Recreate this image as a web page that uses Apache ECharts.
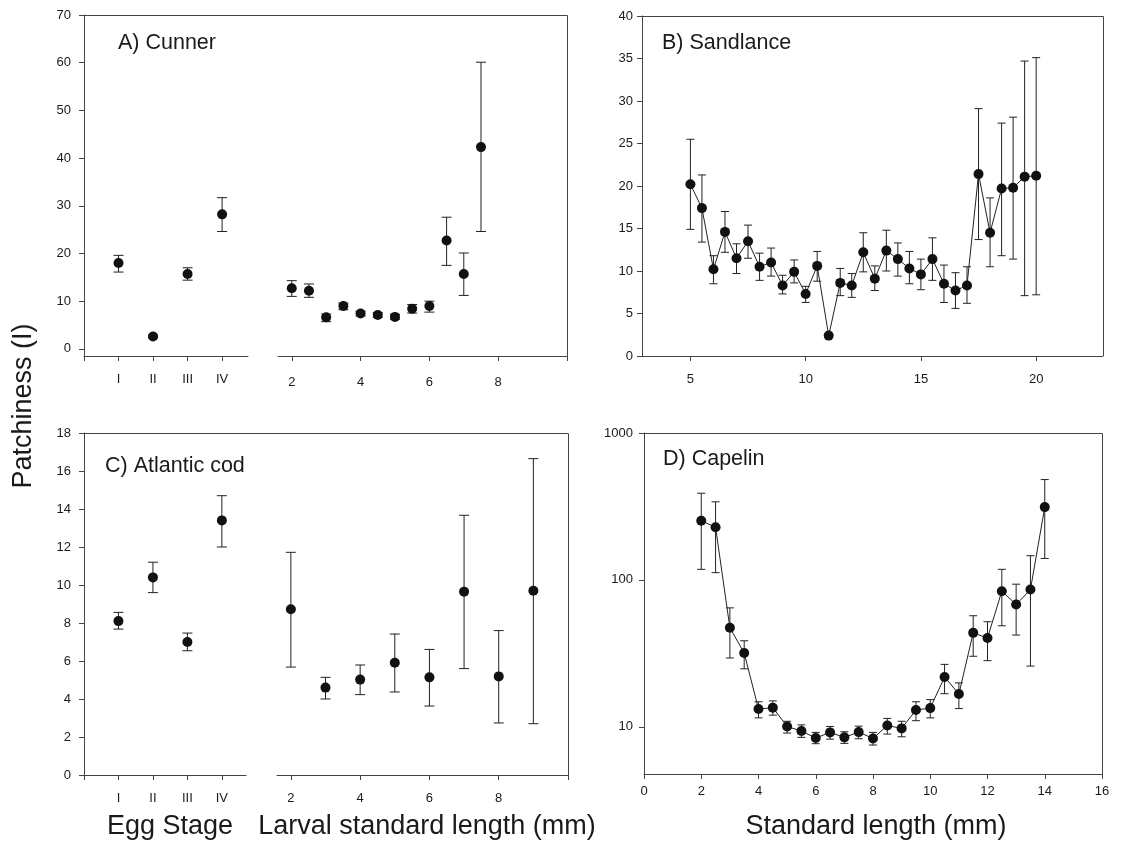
<!DOCTYPE html>
<html><head><meta charset="utf-8">
<script src="https://cdn.jsdelivr.net/npm/echarts@6/dist/echarts.min.js"></script>
<style>html,body{margin:0;padding:0;background:#fff}#c{width:1141px;height:843px}</style>
</head><body><div id="c"></div>
<script>
// ---------- Data ----------
const eggStageLabels = ['I', 'II', 'III', 'IV'];
const eggStagePos = [1, 2, 3, 4];

// A) Cunner
const cunnerEggMean = [18.0, 2.6, 15.7, 28.2];
const cunnerEggLow  = [16.1, 2.3, 14.4, 24.6];
const cunnerEggHigh = [19.6, 2.9, 17.0, 31.7];
const cunnerLarvaLen  = [2, 2.5, 3, 3.5, 4, 4.5, 5, 5.5, 6, 6.5, 7, 7.5];
const cunnerLarvaMean = [12.7, 12.2, 6.6, 9.0, 7.4, 7.1, 6.7, 8.4, 9.0, 22.7, 15.7, 42.3];
const cunnerLarvaLow  = [11.0, 10.8, 5.7, 8.2, 6.9, 6.6, 6.2, 7.5, 7.7, 17.5, 11.2, 24.6];
const cunnerLarvaHigh = [14.3, 13.6, 7.3, 9.6, 7.9, 7.6, 7.2, 9.3, 10.0, 27.6, 20.1, 60.1];

// B) Sandlance
const sandLen  = [5, 5.5, 6, 6.5, 7, 7.5, 8, 8.5, 9, 9.5, 10, 10.5, 11, 11.5, 12, 12.5, 13, 13.5, 14, 14.5, 15, 15.5, 16, 16.5, 17, 17.5, 18, 18.5, 19, 19.5, 20];
const sandMean = [20.2, 17.4, 10.2, 14.6, 11.5, 13.5, 10.5, 11.0, 8.3, 9.9, 7.3, 10.6, 2.4, 8.6, 8.3, 12.2, 9.1, 12.4, 11.4, 10.3, 9.6, 11.4, 8.5, 7.7, 8.3, 21.4, 14.5, 19.7, 19.8, 21.1, 21.2];
const sandLow  = [14.9, 13.4, 8.5, 12.2, 9.7, 11.5, 8.9, 9.4, 7.3, 8.6, 6.3, 8.8, 2.2, 7.1, 6.9, 9.9, 7.7, 10.0, 9.4, 8.5, 7.8, 8.9, 6.3, 5.6, 6.2, 13.7, 10.5, 11.8, 11.4, 7.1, 7.2];
const sandHigh = [25.5, 21.3, 11.8, 17.0, 13.2, 15.4, 12.1, 12.7, 9.5, 11.3, 8.2, 12.3, 2.6, 10.3, 9.7, 14.5, 10.6, 14.8, 13.3, 12.3, 11.4, 13.9, 10.7, 9.8, 10.5, 29.1, 18.6, 27.4, 28.1, 34.7, 35.1];

// C) Atlantic cod
const codEggMean = [8.1, 10.4, 7.0, 13.4];
const codEggLow  = [7.68, 9.6, 6.54, 12.0];
const codEggHigh = [8.56, 11.2, 7.47, 14.7];
const codLarvaLen  = [2, 3, 4, 5, 6, 7, 8, 9];
const codLarvaMean = [8.72, 4.6, 5.02, 5.91, 5.14, 9.65, 5.19, 9.7];
const codLarvaLow  = [5.68, 4.0, 4.23, 4.37, 3.63, 5.6, 2.74, 2.7];
const codLarvaHigh = [11.72, 5.14, 5.79, 7.42, 6.61, 13.67, 7.6, 16.65];

// D) Capelin
const capLen  = [2, 2.5, 3, 3.5, 4, 4.5, 5, 5.5, 6, 6.5, 7, 7.5, 8, 8.5, 9, 9.5, 10, 10.5, 11, 11.5, 12, 12.5, 13, 13.5, 14];
const capMean = [253, 228, 47.2, 31.8, 13.2, 13.5, 10.05, 9.35, 8.38, 9.16, 8.47, 9.2, 8.33, 10.2, 9.75, 13.0, 13.4, 21.8, 16.7, 43.6, 40.2, 83.8, 68.0, 85.9, 313];
const capLow  = [118, 112, 29.4, 24.8, 11.5, 12.0, 9.06, 8.47, 7.67, 8.24, 7.71, 8.29, 7.51, 8.92, 8.55, 11.0, 11.5, 16.8, 13.3, 30.2, 28.2, 48.7, 42.1, 25.9, 140];
const capHigh = [389, 340, 64.5, 38.5, 14.8, 15.0, 10.9, 10.3, 9.16, 10.05, 9.25, 10.1, 9.16, 11.4, 10.9, 14.8, 15.3, 26.6, 19.9, 57.0, 51.9, 118, 93.5, 146, 482];

// Tick values
const cunnerYTicks = [0, 10, 20, 30, 40, 50, 60, 70];
const sandYTicks = [0, 5, 10, 15, 20, 25, 30, 35, 40];
const codYTicks = [0, 2, 4, 6, 8, 10, 12, 14, 16, 18];
const capYTicks = [10, 100, 1000];
const larvaXLabels = [2, 4, 6, 8];
const larvaXTicks = [2, 4, 6, 8, 10];
const sandXTicks = [5, 10, 15, 20];
const eggXTicks = [0, 1, 2, 3, 4];

// ---------- Helpers ----------
const zip2 = (xs, ys) => xs.map((x, i) => [x, ys[i]]);
const zip3 = (xs, lo, hi) => xs.map((x, i) => [x, lo[i], hi[i]]);
const FONT = 'Liberation Sans, Arial, sans-serif';
const AX = '#444';
const TXT = '#1a1a1a';

function errRender(capHalf) {
  return function (params, api) {
    const x = api.value(0), lo = api.value(1), hi = api.value(2);
    const a = api.coord([x, lo]), b = api.coord([x, hi]);
    const style = { stroke: '#222', lineWidth: 1 };
    return { type: 'group', children: [
      { type: 'line', shape: { x1: a[0], y1: a[1], x2: b[0], y2: b[1] }, style },
      { type: 'line', shape: { x1: a[0] - capHalf, y1: a[1], x2: a[0] + capHalf, y2: a[1] }, style },
      { type: 'line', shape: { x1: b[0] - capHalf, y1: b[1], x2: b[0] + capHalf, y2: b[1] }, style }
    ]};
  };
}

const grids = [
  { left: 84,  top: 15,  width: 164, height: 341 },  // A egg
  { left: 278, top: 15,  width: 289, height: 341 },  // A larva
  { left: 642, top: 16,  width: 461, height: 340 },  // B
  { left: 84,  top: 433, width: 162, height: 342 },  // C egg
  { left: 277, top: 433, width: 291, height: 342 },  // C larva
  { left: 644, top: 433, width: 458, height: 341 }   // D
];

function xAx(gi, min, max, tickVals, labelVals, margin, fmt) {
  return {
    type: 'value', gridIndex: gi, min, max, position: 'bottom',
    axisLine: { show: true, onZero: false, lineStyle: { color: AX, width: 1 } },
    axisTick: { show: true, length: 5, customValues: tickVals, lineStyle: { color: AX } },
    axisLabel: { customValues: labelVals, margin, color: TXT, fontSize: 13, fontFamily: FONT,
                 formatter: fmt || (v => String(v)) },
    splitLine: { show: false }
  };
}
function yAx(gi, type, min, max, tickVals, margin, showAll) {
  return {
    type, gridIndex: gi, min, max, position: 'left',
    axisLine: { show: showAll, onZero: false, lineStyle: { color: AX, width: 1 } },
    axisTick: { show: showAll, length: 5, customValues: tickVals, lineStyle: { color: AX } },
    axisLabel: { show: showAll, customValues: tickVals, margin, color: TXT, fontSize: 13, fontFamily: FONT,
                 formatter: v => String(Math.round(v)) },
    splitLine: { show: false }
  };
}

const eggFmt = v => eggStageLabels[eggStagePos.indexOf(v)] || '';

const option = {
  animation: false,
  backgroundColor: '#fff',
  grid: grids,
  xAxis: [
    xAx(0, 0, 4.75, eggXTicks, eggStagePos, 17, eggFmt),
    xAx(1, 1.6, 10, larvaXTicks, larvaXLabels, 20),
    xAx(2, 2.9, 22.9, sandXTicks, sandXTicks, 17),
    xAx(3, 0, 4.7, eggXTicks, eggStagePos, 17, eggFmt),
    xAx(4, 1.6, 10, larvaXTicks, larvaXLabels, 17),
    Object.assign(xAx(5, 0, 16, null, null, 11), { interval: 2 })
  ],
  yAxis: [
    yAx(0, 'value', -1.5, 70, cunnerYTicks, 13, true),
    yAx(1, 'value', -1.5, 70, cunnerYTicks, 13, false),
    yAx(2, 'value', 0, 40, sandYTicks, 9, true),
    yAx(3, 'value', 0, 18, codYTicks, 13, true),
    yAx(4, 'value', 0, 18, codYTicks, 13, false),
    Object.assign(yAx(5, 'log', 4.77, 1000, capYTicks, 11, true), { minorTick: { show: false } })
  ],
  series: [],
  graphic: []
};

function addPanel(gi, xs, mean, lo, hi, withLine, cap) {
  option.series.push({
    type: 'custom', xAxisIndex: gi, yAxisIndex: gi, renderItem: errRender(cap),
    data: zip3(xs, lo, hi), z: 2, silent: true, clip: false
  });
  option.series.push({
    type: withLine ? 'line' : 'scatter', xAxisIndex: gi, yAxisIndex: gi,
    data: zip2(xs, mean), symbol: 'circle', symbolSize: 10,
    itemStyle: { color: '#111', borderWidth: 0, opacity: 1 },
    lineStyle: { color: '#222', width: 1 },
    z: 3, silent: true
  });
}
addPanel(0, eggStagePos, cunnerEggMean, cunnerEggLow, cunnerEggHigh, false, 5);
addPanel(1, cunnerLarvaLen, cunnerLarvaMean, cunnerLarvaLow, cunnerLarvaHigh, false, 5);
addPanel(2, sandLen, sandMean, sandLow, sandHigh, true, 4);
addPanel(3, eggStagePos, codEggMean, codEggLow, codEggHigh, false, 5);
addPanel(4, codLarvaLen, codLarvaMean, codLarvaLow, codLarvaHigh, false, 5);
addPanel(5, capLen, capMean, capLow, capHigh, true, 4);

// Frames (top & right borders)
function frame(gL, gR) {
  const l = gL.left, r = gR.left + gR.width, t = gL.top, b = gL.top + gL.height;
  option.graphic.push({ type: 'polyline', silent: true, z: 1,
    shape: { points: [[l, t + 0.5], [r + 0.5, t + 0.5], [r + 0.5, b]] },
    style: { stroke: AX, lineWidth: 1, fill: null } });
}
frame(grids[0], grids[1]);
frame(grids[2], grids[2]);
frame(grids[3], grids[4]);
frame(grids[5], grids[5]);

// Panel labels
function txt(text, x, y, size) {
  option.graphic.push({ type: 'text', silent: true, z: 10,
    style: { text, x, y, fill: TXT, font: size + 'px ' + FONT, textVerticalAlign: 'middle' } });
}
txt('A) Cunner', 118, 43, 21.5);
txt('B) Sandlance', 662, 43, 21.5);
txt('C) Atlantic cod', 105, 466, 21.5);
txt('D) Capelin', 663, 459, 21.5);

// Axis titles
option.graphic.push({ type: 'text', silent: true, x: 24, y: 406, rotation: Math.PI / 2,
  style: { text: 'Patchiness (I)', x: 0, y: 0, fill: TXT, font: '27px ' + FONT, textAlign: 'center', textVerticalAlign: 'middle' } });
option.graphic.push({ type: 'text', silent: true,
  style: { text: 'Egg Stage', x: 170, y: 827, fill: TXT, font: '27px ' + FONT, textAlign: 'center', textVerticalAlign: 'middle' } });
option.graphic.push({ type: 'text', silent: true,
  style: { text: 'Larval standard length (mm)', x: 427, y: 827, fill: TXT, font: '27px ' + FONT, textAlign: 'center', textVerticalAlign: 'middle' } });
option.graphic.push({ type: 'text', silent: true,
  style: { text: 'Standard length (mm)', x: 876, y: 827, fill: TXT, font: '27px ' + FONT, textAlign: 'center', textVerticalAlign: 'middle' } });

const chart = echarts.init(document.getElementById('c'), null, { renderer: 'canvas' });
chart.setOption(option);
</script>
</body></html>
